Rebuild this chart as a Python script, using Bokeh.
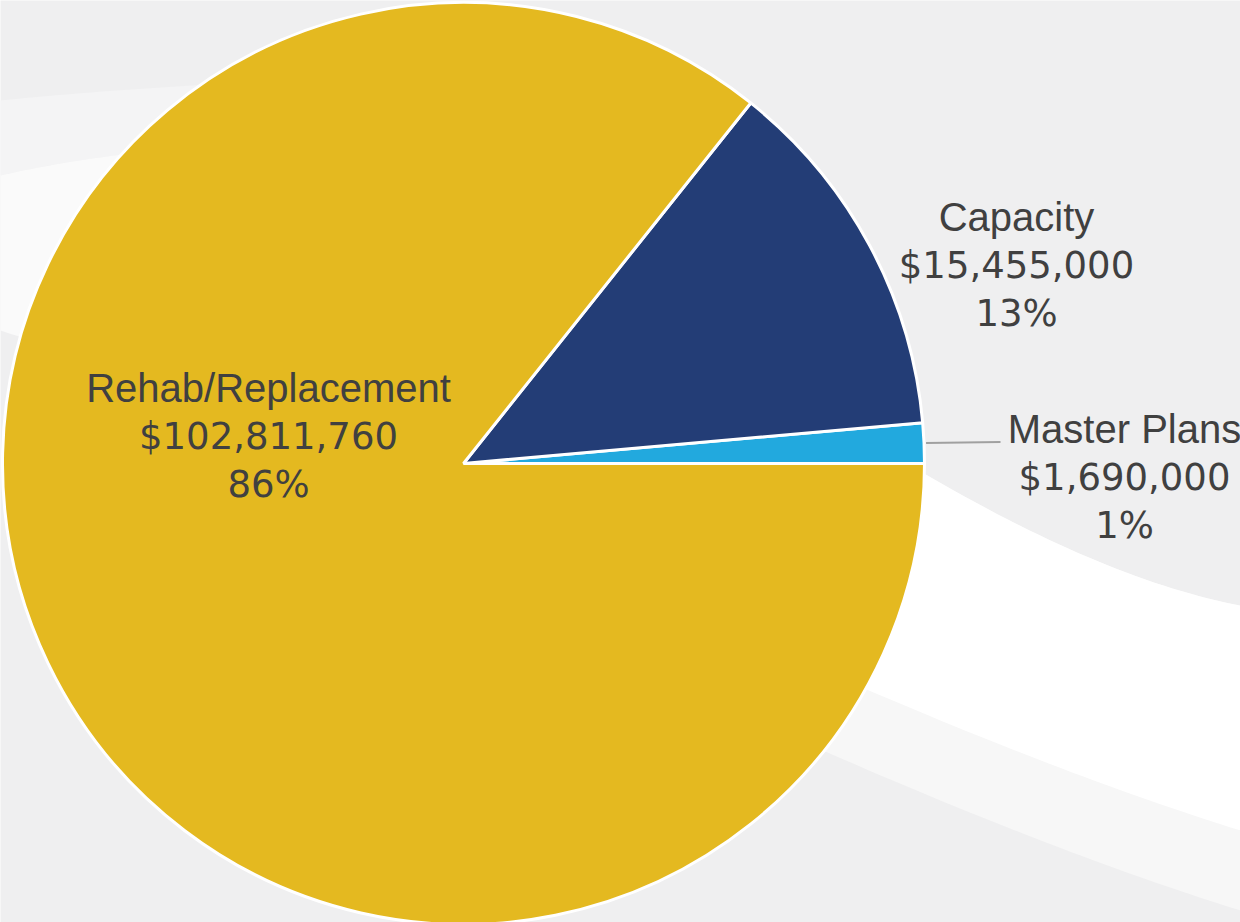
import numpy as np
from bokeh.plotting import figure
from bokeh.models import ColumnDataSource
from bokeh.core.properties import value
from bokeh.embed import file_html
from bokeh.resources import INLINE

# ---- data ----
categories = ["Master Plans", "Capacity", "Rehab/Replacement"]
amounts = [1690000, 15455000, 102811760]
colors = ["#22A9DE", "#233D76", "#E4B920"]

W, H = 1240, 922
p = figure(width=W, height=H, x_range=(0, W), y_range=(0, H),
           output_backend="svg", toolbar_location=None, min_border=0)
p.axis.visible = False
p.grid.visible = False
p.outline_line_color = None
p.background_fill_color = "#efeff0"
p.border_fill_color = "#efeff0"

def Y(py):
    return H - py

# ---- background decoration (soft white swooshes) ----
def bez(p0, p1, p2, n=60):
    t = np.linspace(0, 1, n)[:, None]
    pts = (1 - t) ** 2 * np.array(p0) + 2 * (1 - t) * t * np.array(p1) + t ** 2 * np.array(p2)
    return pts[:, 0], pts[:, 1]

def band(upper, lower, color):
    ux, uy = bez(*upper)
    lx, ly = bez(*lower)
    p.patch(list(ux) + list(lx), [Y(v) for v in list(uy) + list(ly)], color=color, line_color=None)

# left swoosh
band(((0, 100), (200, 80), (460, 75)), ((460, 130), (150, 140), (0, 175)), "#f4f4f5")
band(((0, 175), (150, 140), (460, 130)), ((460, 420), (150, 380), (0, 330)), "#fafafa")
# right swoosh
band(((600, 250), (1000, 560), (1240, 605)), ((1240, 910), (950, 820), (500, 600)), "#f7f7f7")
band(((600, 250), (1000, 560), (1240, 605)), ((1240, 830), (950, 740), (500, 520)), "#ffffff")

# ---- pie ----
cx, cy, r = 463, 463, 461
vals = np.array(amounts, dtype=float)
total = vals.sum()
fr = vals / total
ends = np.cumsum(fr) * 2 * np.pi
starts = np.concatenate([[0], ends[:-1]])
src = ColumnDataSource(dict(start=starts, end=ends, color=colors, cat=categories))
p.wedge(x=cx, y=Y(cy), radius=r, start_angle="start", end_angle="end",
        fill_color="color", line_color="white", line_width=3, source=src)

# ---- labels ----
pct = [f"{round(f * 100):.0f}%" for f in fr]
money = [f"${int(a):,}" for a in amounts]
label_pos = {"Master Plans": (1124, 428), "Capacity": (1016, 216), "Rehab/Replacement": (268, 387)}
line_gap = 48.5
nx, ny, nt = [], [], []
vx, vy, vt = [], [], []
for cat, m, pc in zip(categories, money, pct):
    x0, y0 = label_pos[cat]
    nx.append(x0); ny.append(Y(y0)); nt.append(cat)
    for k, s in enumerate([m, pc], start=1):
        vx.append(x0)
        vy.append(Y(y0 + k * line_gap))
        vt.append(s)
p.text(x=nx, y=ny, text=nt, text_align="center", text_baseline="middle",
       text_font=value("Liberation Sans"), text_font_size="40px", text_color="#404040")
p.text(x=vx, y=vy, text=vt, text_align="center", text_baseline="middle",
       text_font=value("DejaVu Sans"), text_font_size="37px", text_color="#404040")

# leader line for Master Plans
mid = (starts[0] + ends[0]) / 2
ex, ey = cx + (r + 2) * np.cos(mid), cy - (r + 2) * np.sin(mid)
p.line(x=[ex, 1000], y=[Y(ey), Y(ey - 1)], line_color="#a0a0a0", line_width=2)

open("out.html", "w").write(file_html(p, INLINE))
